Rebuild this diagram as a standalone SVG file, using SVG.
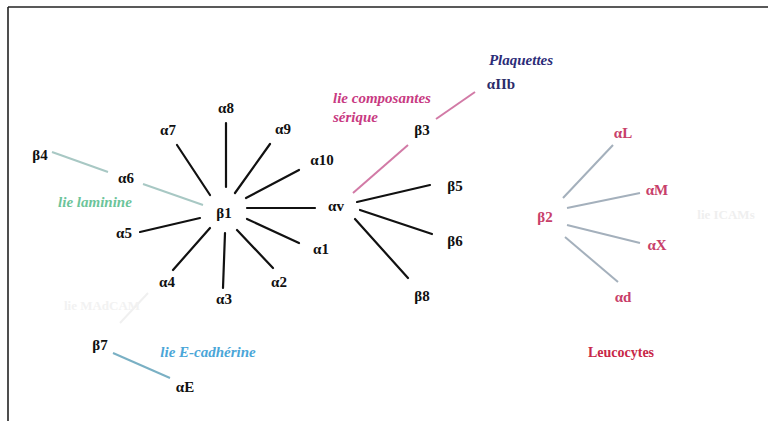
<svg xmlns="http://www.w3.org/2000/svg" width="768" height="421" viewBox="0 0 768 421">
<style>
text{font-family:"Liberation Serif","DejaVu Serif","Times New Roman",serif;font-size:15px;font-weight:bold;text-anchor:middle;dominant-baseline:central}
.lab{fill:#111}
.it{font-style:italic}
.blk{stroke:#111;stroke-width:2.2;fill:none;stroke-linecap:round}
.teal{stroke:#a8c8c4;stroke-width:2;fill:none}
.pink{stroke:#d27aa6;stroke-width:2;fill:none}
.gray{stroke:#a4b0bc;stroke-width:2;fill:none}
.blue{stroke:#7ab0c4;stroke-width:2;fill:none}
.faint{stroke:#f0f0f0;stroke-width:2;fill:none}
.rose{fill:#c8406a}
</style>
<rect width="768" height="421" fill="#ffffff"/>
<g id="frame">
<line x1="8" y1="7" x2="768" y2="7" stroke="#222" stroke-width="1.6"/>
<line x1="8" y1="7" x2="8" y2="421" stroke="#222" stroke-width="1.6"/>
</g>
<g id="connectors">
<line class="teal" x1="52" y1="152" x2="108" y2="172"/>
<line class="teal" x1="143" y1="184" x2="203" y2="205"/>
<line class="blk" x1="177" y1="145" x2="210" y2="195"/>
<line class="blk" x1="226" y1="123" x2="226" y2="187"/>
<line class="blk" x1="270" y1="144" x2="235" y2="193"/>
<line class="blk" x1="299" y1="170" x2="246" y2="198"/>
<line class="blk" x1="247" y1="208" x2="315" y2="208"/>
<line class="blk" x1="140" y1="232" x2="200" y2="218"/>
<line class="blk" x1="210" y1="228" x2="173" y2="270"/>
<line class="blk" x1="225" y1="233" x2="223" y2="288"/>
<line class="blk" x1="237" y1="230" x2="273" y2="268"/>
<line class="blk" x1="247" y1="219" x2="299" y2="243"/>
<line class="pink" x1="353" y1="193" x2="408" y2="145"/>
<line class="pink" x1="436" y1="119" x2="475" y2="92"/>
<line class="blk" x1="357" y1="202" x2="430" y2="185"/>
<line class="blk" x1="360" y1="210" x2="432" y2="234"/>
<line class="blk" x1="355" y1="219" x2="408" y2="278"/>
<line class="gray" x1="563" y1="198" x2="613" y2="145"/>
<line class="gray" x1="567" y1="208" x2="640" y2="193"/>
<line class="gray" x1="567" y1="225" x2="640" y2="243"/>
<line class="gray" x1="565" y1="237" x2="618" y2="282"/>
<line class="faint" x1="148" y1="293" x2="120" y2="323"/>
<line class="blue" x1="113" y1="353" x2="170" y2="378"/>
</g>
<g id="beta1-group">
<text class="lab" x="224" y="213">β1</text>
<text class="lab" x="40" y="155">β4</text>
<text class="lab" x="126" y="178">α6</text>
<text class="it" x="95" y="202" fill="#6cc49a">lie laminine</text>
<text class="lab" x="168" y="130">α7</text>
<text class="lab" x="226" y="108">α8</text>
<text class="lab" x="283" y="129">α9</text>
<text class="lab" x="322" y="160">α10</text>
<text class="lab" x="124" y="233">α5</text>
<text class="lab" x="167" y="282">α4</text>
<text class="lab" x="224" y="299">α3</text>
<text class="lab" x="279" y="282">α2</text>
<text class="lab" x="321" y="249">α1</text>
</g>
<g id="alphav-group">
<text class="lab" x="336" y="206">αv</text>
<text class="lab" x="422" y="130">β3</text>
<text class="lab" x="455" y="186">β5</text>
<text class="lab" x="455" y="241">β6</text>
<text class="lab" x="422" y="296">β8</text>
<text class="it" x="333" y="98" fill="#c83a82" style="text-anchor:start">lie composantes</text>
<text class="it" x="333" y="117" fill="#c83a82" style="text-anchor:start">sérique</text>
</g>
<g id="plaquettes">
<text class="it" x="521" y="60" fill="#2c2c78">Plaquettes</text>
<text x="501" y="84" fill="#2c2c6a">αIIb</text>
</g>
<g id="beta2-group">
<text class="rose" x="545" y="217">β2</text>
<text class="rose" x="623" y="133">αL</text>
<text class="rose" x="657" y="190">αM</text>
<text class="rose" x="657" y="245">αX</text>
<text class="rose" x="623" y="297">αd</text>
<text x="726" y="214" fill="#efefef" style="font-size:13px">lie ICAMs</text>
<text x="621" y="352" fill="#c82848" style="font-size:14px">Leucocytes</text>
</g>
<g id="beta7-group">
<text class="lab" x="100" y="345">β7</text>
<text class="lab" x="185" y="387">αE</text>
<text class="it" x="208" y="352" fill="#4aa6d8">lie E-cadhérine</text>
<text x="102" y="305" fill="#f2f2f2" style="font-size:13px">lie MAdCAM</text>
</g>
</svg>
